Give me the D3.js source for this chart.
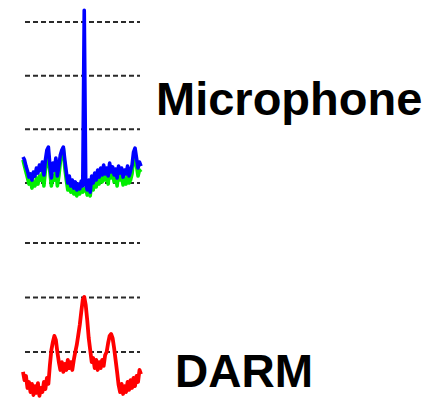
<!DOCTYPE html>
<html>
<head>
<meta charset="utf-8">
<script src="https://cdn.jsdelivr.net/npm/d3@7"></script>
<style>
  html, body { margin: 0; padding: 0; background: #fff; }
  svg { display: block; }
</style>
</head>
<body>
<svg id="chart" width="434" height="404"></svg>
<script>
// Spectrum snapshots (dB) sampled on a common frequency index.
const micBlue = [
  -70.3,-71.4,-73.7,-75.5,-77.8,-76.6,-78.9,-75.9,-77.4,-74.4,
  -76.3,-73.3,-75.2,-72.2,-77.0,-71.4,-67.7,-66.6,-73.3,-78.1,
  -72.6,-75.2,-70.7,-77.4,-73.7,-69.6,-67.7,-66.6,-71.4,-75.9,
  -80.0,-77.4,-81.1,-78.9,-81.9,-79.6,-82.6,-80.4,-82.2,-79.3,
  -81.1,-15.6,-80.0,-82.6,-78.9,-83.4,-77.4,-80.0,-76.3,-78.9,
  -75.2,-77.8,-74.4,-77.0,-73.3,-76.6,-74.4,-77.4,-72.6,-75.9,
  -74.0,-77.0,-74.8,-78.1,-73.7,-76.3,-74.4,-77.8,-75.2,-76.6,
  -73.7,-77.4,-75.5,-73.3,-68.5,-67.0,-70.7,-74.4,-72.2,-73.7
];
const micGreen = [
  -71.4,-73.7,-75.9,-78.1,-80.4,-78.9,-81.9,-79.6,-81.1,-78.1,
  -80.4,-77.4,-78.9,-75.9,-81.1,-75.2,-71.4,-69.6,-75.9,-81.1,
  -77.4,-78.9,-74.4,-81.1,-77.4,-72.2,-68.5,-67.0,-74.4,-78.9,
  -82.6,-80.4,-83.4,-81.1,-84.1,-81.9,-84.8,-82.6,-84.1,-81.1,
  -83.4,-82.6,-81.9,-84.5,-81.1,-84.8,-79.6,-82.6,-78.1,-81.5,
  -77.4,-80.4,-76.6,-79.6,-75.2,-78.9,-76.6,-80.4,-74.4,-78.1,
  -75.9,-79.6,-77.4,-81.1,-75.9,-78.9,-77.4,-80.7,-78.1,-80.4,
  -76.6,-80.0,-78.9,-76.6,-71.4,-70.0,-73.7,-77.4,-75.2,-75.9
];
const darmRed = [
  -107.3,-110.3,-108.8,-113.2,-111.0,-114.7,-111.7,-115.8,-112.5,-115.0,
  -111.4,-116.1,-113.2,-114.7,-111.0,-113.6,-109.5,-111.7,-104.8,-99.3,
  -96.3,-94.1,-95.6,-100.0,-103.7,-106.6,-103.7,-107.3,-104.4,-106.6,
  -102.9,-105.9,-103.7,-106.6,-102.9,-100.0,-97.4,-93.8,-90.1,-85.3,
  -80.9,-79.8,-82.8,-88.3,-94.9,-99.3,-103.7,-102.2,-105.9,-102.9,
  -106.6,-103.7,-105.9,-102.9,-105.1,-101.1,-100.0,-96.7,-94.1,-93.4,
  -94.9,-98.5,-102.9,-107.3,-112.1,-114.7,-111.7,-115.4,-112.5,-114.7,
  -111.0,-113.9,-110.3,-113.2,-109.5,-112.5,-108.8,-111.0,-106.6,-108.1
];
const micGrid = [-80, -60, -40, -20];
const darmGrid = [-100, -80, -60];
const labels = ["Microphone", "DARM"];

const svg = d3.select("#chart");

// Slight softening of the traces
const defs = svg.append("defs");
defs.append("filter").attr("id", "soft")
  .attr("x", "-10%").attr("y", "-10%").attr("width", "120%").attr("height", "120%")
  .append("feGaussianBlur").attr("stdDeviation", 0.5);

const x = d3.scaleLinear().domain([0, micBlue.length - 1]).range([23, 141]);
const yMic = d3.scaleLinear().domain([-80, -20]).range([183, 22]);
const yDarm = d3.scaleLinear().domain([-100, -60]).range([352, 243]);

function gridlines(values, y) {
  svg.append("g")
    .selectAll("line")
    .data(values)
    .join("line")
    .attr("x1", 25).attr("x2", 140)
    .attr("y1", d => y(d)).attr("y2", d => y(d))
    .attr("stroke", "#2a2a2a")
    .attr("stroke-width", 2)
    .attr("stroke-dasharray", "5,3");
}

function trace(values, y, color, width) {
  const line = d3.line().x((d, i) => x(i)).y(d => y(d));
  svg.append("path")
    .datum(values)
    .attr("d", line)
    .attr("fill", "none")
    .attr("stroke", color)
    .attr("stroke-width", width)
    .attr("stroke-linejoin", "round")
    .attr("filter", "url(#soft)");
}

gridlines(micGrid, yMic);
gridlines(darmGrid, yDarm);

trace(micGreen, yMic, "#00ee00", 3.6);
trace(micBlue, yMic, "#0000ff", 3.6);
trace(darmRed, yDarm, "#ff0000", 3.8);

svg.append("text")
  .attr("x", 156).attr("y", 115)
  .attr("font-family", "Liberation Sans, Arial, sans-serif")
  .attr("font-weight", "bold")
  .attr("font-size", 47)
  .attr("fill", "#000")
  .text(labels[0]);

svg.append("text")
  .attr("x", 175).attr("y", 387)
  .attr("font-family", "Liberation Sans, Arial, sans-serif")
  .attr("font-weight", "bold")
  .attr("font-size", 46)
  .attr("fill", "#000")
  .text(labels[1]);
</script>
</body>
</html>
